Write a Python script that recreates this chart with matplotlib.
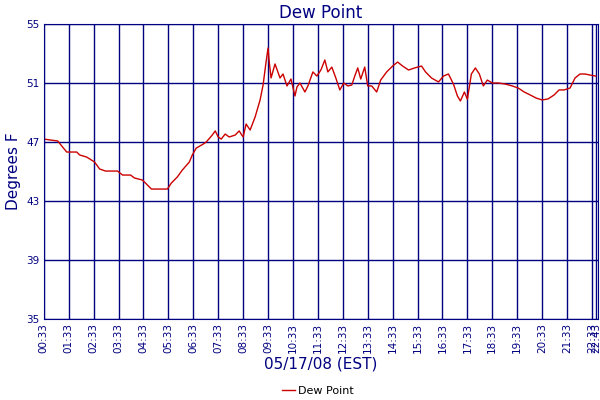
import matplotlib
matplotlib.use("Agg")
import matplotlib.pyplot as plt
from matplotlib.lines import Line2D

hours = [0.55,0.79,1.11,1.27,1.47,1.87,1.99,2.27,2.59,2.79,3.03,3.51,3.71,4.03,4.19,4.51,4.87,5.51,5.67,5.91,6.11,6.39,6.51,6.67,6.95,7.07,7.31,7.43,7.55,7.67,7.83,7.99,8.23,8.39,8.55,8.67,8.83,9.03,9.23,9.35,9.47,9.55,9.59,9.67,9.83,10.03,10.15,10.31,10.47,10.63,10.71,10.83,11.03,11.15,11.35,11.51,11.67,11.83,11.95,12.11,12.27,12.43,12.59,12.75,12.91,13.03,13.15,13.27,13.43,13.55,13.71,13.91,14.07,14.31,14.55,14.75,14.95,15.19,15.43,15.71,15.87,16.11,16.39,16.59,16.79,16.99,17.15,17.27,17.43,17.55,17.71,17.87,18.03,18.19,18.35,18.55,18.79,19.07,19.35,19.59,19.83,20.07,20.31,20.55,20.79,21.03,21.23,21.43,21.67,21.87,22.07,22.27,22.47,22.70]
dewpoint = [47.2,47.14,47.07,46.73,46.32,46.32,46.12,45.98,45.64,45.17,45.03,45.03,44.76,44.76,44.56,44.42,43.81,43.81,44.22,44.63,45.10,45.64,46.12,46.59,46.86,47.0,47.47,47.75,47.34,47.2,47.54,47.34,47.47,47.75,47.34,48.22,47.81,48.69,49.85,50.86,52.42,53.37,52.56,51.34,52.29,51.34,51.61,50.8,51.27,50.12,50.73,51.0,50.39,50.8,51.75,51.47,51.88,52.56,51.75,52.08,51.34,50.53,51.0,50.8,50.86,51.47,52.02,51.27,52.08,50.8,50.8,50.39,51.2,51.75,52.15,52.42,52.15,51.88,52.02,52.15,51.75,51.34,51.07,51.47,51.61,50.93,50.12,49.78,50.39,49.9,51.61,52.02,51.61,50.8,51.2,51.0,51.0,50.93,50.8,50.66,50.39,50.19,49.98,49.85,49.92,50.19,50.53,50.53,50.66,51.34,51.61,51.61,51.54,51.47]
tick_hours = [0.55 + i for i in range(23)] + [22 + 43/60]
tick_labels = ["%02d:33" % i for i in range(23)] + ["22:43"]
yticks = [35, 39, 43, 47, 51, 55]

navy = "#000080"
fig = plt.figure(figsize=(6, 4), dpi=100)
ax = fig.add_axes([0.073, 0.2025, 0.924, 0.7375])
ax.plot(hours, dewpoint, color="#cc0000", lw=1)
ax.set_xlim(0.55, 22 + 48/60)
ax.set_ylim(35, 55)
ax.set_xticks(tick_hours)
ax.set_xticklabels(tick_labels, rotation=90, fontsize=7.5, color=navy)
ax.set_yticks(yticks)
ax.set_yticklabels([str(v) for v in yticks], fontsize=7.5, color=navy)
ax.tick_params(length=0, pad=3)
ax.grid(True, color=navy, lw=1)
for s in ax.spines.values():
    s.set_color(navy)
ax.set_title("Dew Point", color=navy, fontsize=12, pad=4)
ax.set_ylabel("Degrees F", color=navy, fontsize=11)
ax.set_xlabel("05/17/08 (EST)", color=navy, fontsize=11, labelpad=2)
fig.legend([Line2D([], [], color="#cc0000", lw=1)], ["Dew Point"], loc="lower center",
           bbox_to_anchor=(0.53, -0.015), frameon=False, fontsize=8, handlelength=1.2, handletextpad=0.3)
fig.savefig("out.png", dpi=100)
